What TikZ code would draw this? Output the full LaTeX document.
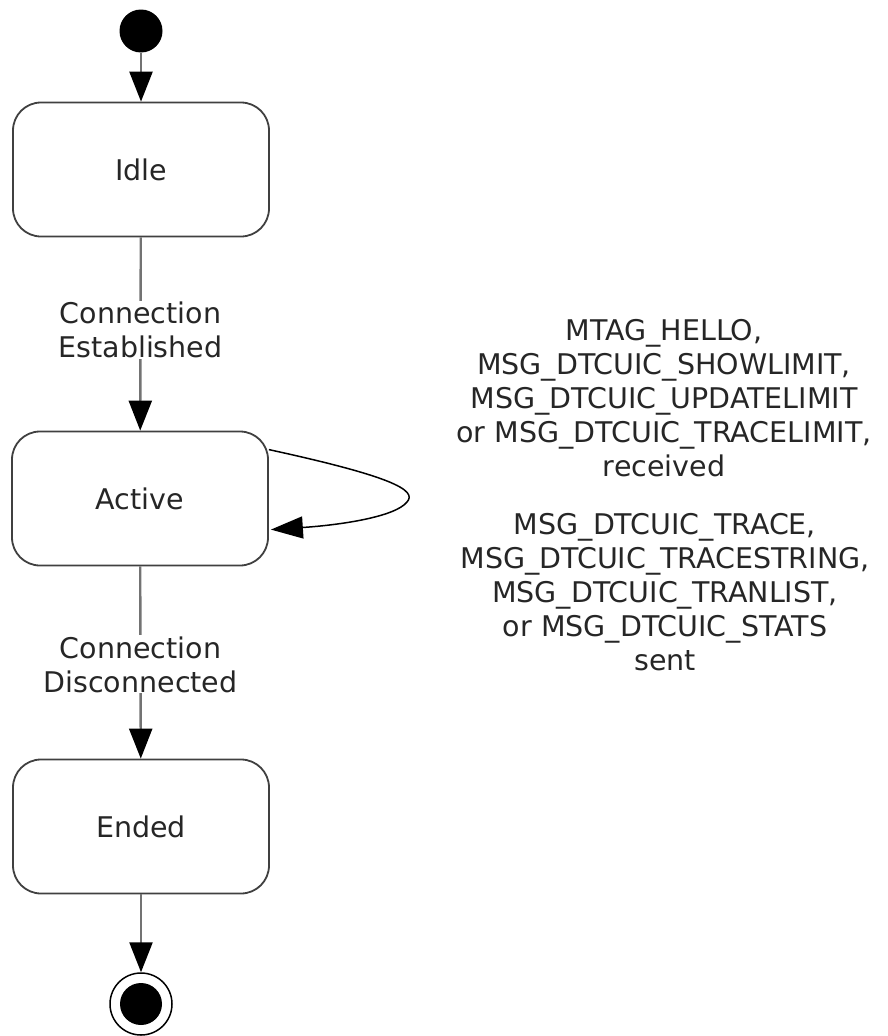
\documentclass[tikz,border=0pt]{standalone}
\usepackage{fontspec}
\setmainfont{DejaVu Sans}
\usetikzlibrary{arrows.meta,calc}
\tikzset{
  txt/.style={font=\fontsize{28.5}{34}\selectfont, text=black!85},
  state/.style={txt, draw=black!75, line width=1.8pt, rounded corners=28pt, minimum width=256pt, minimum height=134pt, fill=white, inner sep=0pt},
  conn/.style={draw=black!55, line width=2.4pt, -{Triangle[length=30pt,width=23pt,color=black]}},
  loopconn/.style={draw=black, line width=1.5pt, -{Triangle[length=32pt,width=22pt,color=black]}},
  lbl/.style={txt, fill=white, align=center, inner sep=1pt},
  note/.style={txt, align=center, inner sep=0pt},
}
\begin{document}
\begin{tikzpicture}[x=1pt,y=-1pt]
\useasboundingbox (0,0) rectangle (887,1036);
\node[circle, fill=black, minimum size=43pt, inner sep=0pt] (start) at (141,31) {};
\node[state] (idle) at (141,169.5) {Idle};
\node[state] (active) at (140,498.5) {Active};
\node[state] (ended) at (141,826.5) {Ended};
\node[circle, draw=black, line width=1.5pt, fill=white, minimum size=62pt, inner sep=0pt] (final) at (141,1004) {};
\node[circle, fill=black, minimum size=42pt, inner sep=0pt] (finalin) at (final.center) {};

\draw[conn] (start) -- (idle);
\draw[conn] (idle) -- (active) node[lbl, pos=0.48] (l1) {Connection\\Established};
\draw[conn] (active) -- (ended) node[lbl, pos=0.51] (l2) {Connection\\Disconnected};
\draw[conn] (ended) -- (final);

\coordinate (a1) at ($(active.north east)+(0,19)$);
\coordinate (a2) at ($(active.north east)+(2,99)$);
\draw[loopconn] (a1) .. controls (390,476) and (418,490) .. (407,502) .. controls (395,517) and (340,525) .. (a2);

\node[note] (n1) at (664,398) {MTAG\_HELLO,\\MSG\_DTCUIC\_SHOWLIMIT,\\MSG\_DTCUIC\_UPDATELIMIT\\or MSG\_DTCUIC\_TRACELIMIT,\\received};
\node[note] (n2) at (665,592) {MSG\_DTCUIC\_TRACE,\\MSG\_DTCUIC\_TRACESTRING,\\MSG\_DTCUIC\_TRANLIST,\\or MSG\_DTCUIC\_STATS\\sent};
\end{tikzpicture}
\end{document}
